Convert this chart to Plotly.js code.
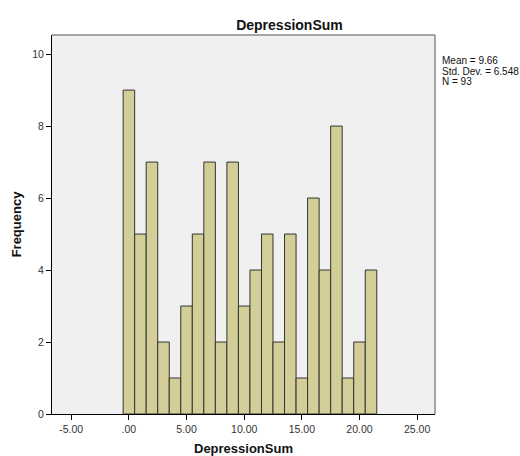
<!DOCTYPE html>
<html><head><meta charset="utf-8">
<script src="https://cdn.plot.ly/plotly-3.0.1.min.js"></script>
<style>body{margin:0;background:#fff}#c{width:520px;height:456px}</style>
</head><body><div id="c"></div>
<script>
const binCenters = [0,1,2,3,4,5,6,7,8,9,10,11,12,13,14,15,16,17,18,19,20,21];
const counts = [9,5,7,2,1,3,5,7,2,7,3,4,5,2,5,1,6,4,8,1,2,4];
const xTickVals = [-5,0,5,10,15,20,25];
const xTickText = ['-5.00','.00','5.00','10.00','15.00','20.00','25.00'];
const yTickVals = [0,2,4,6,8,10];
const statsLines = ['Mean = 9.66','Std. Dev. = 6.548','N = 93'];

const trace = {
  type:'bar', x:binCenters, y:counts, width:1,
  marker:{color:'#d3ce98', line:{color:'#333333', width:1}},
  hoverinfo:'x+y'
};
const statAnn = statsLines.map((t,i)=>({xref:'paper', yref:'paper', x:1.015, y:(414-61-i*10)/379, xanchor:'left', yanchor:'middle',
  align:'left', showarrow:false, text:t, font:{size:10, color:'#111'}, borderpad:0}));
const layout = {
  width:520, height:456,
  margin:{l:52, r:85, t:35, b:42},
  paper_bgcolor:'#ffffff', plot_bgcolor:'#f0f0f0',
  showlegend:false,
  font:{family:'Liberation Sans, Arial, sans-serif', color:'#222'},
  title:{text:'<b>DepressionSum</b>', font:{size:14, color:'#111'}, x:0.62, xref:'paper', xanchor:'center', y:1, yref:'paper', yanchor:'bottom', pad:{b:5}},
  xaxis:{range:[-6.67,26.55], tickvals:xTickVals, ticktext:xTickText, ticks:'outside', ticklen:5, tickcolor:'#000',
    showline:true, linecolor:'#000', linewidth:1, showgrid:false, zeroline:false, tickfont:{size:10.5, color:'#333'},
    title:{text:'<b>DepressionSum</b>', font:{size:13, color:'#111'}, standoff:11}},
  yaxis:{range:[0,10.53], tickvals:yTickVals, ticks:'outside', ticklen:5, tickcolor:'#000',
    showline:true, linecolor:'#000', linewidth:1, showgrid:false, zeroline:false, tickfont:{size:10.5, color:'#333'},
    title:{text:'<b>Frequency</b>', font:{size:13, color:'#111'}, standoff:7}},
  shapes:[
    {type:'line', xref:'paper', yref:'paper', x0:0, x1:1, y0:1, y1:1, line:{color:'#8a8a8a', width:1.5}},
    {type:'line', xref:'paper', yref:'paper', x0:1, x1:1, y0:0, y1:1, line:{color:'#8a8a8a', width:1.5}}
  ],
  annotations:statAnn
};
Plotly.newPlot('c',[trace],layout,{staticPlot:true});
</script></body></html>
